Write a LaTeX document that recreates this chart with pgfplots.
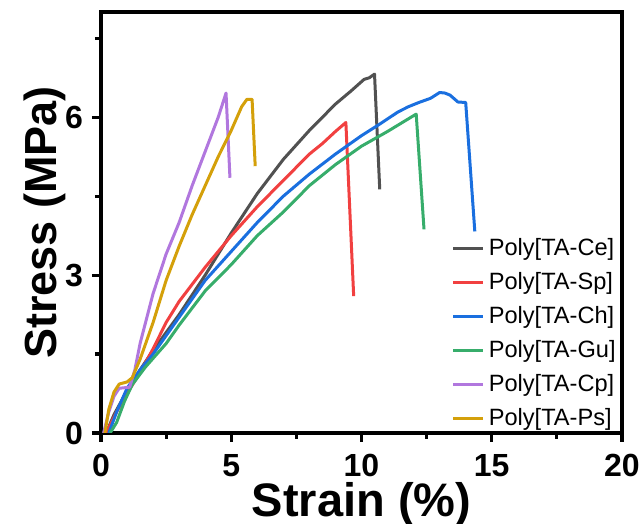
\documentclass[border=0pt]{standalone}
\usepackage{fontspec}
\setmainfont{Liberation Sans}
\usepackage{pgfplots}
\pgfplotsset{compat=1.18}

\definecolor{cCe}{HTML}{515151}
\definecolor{cSp}{HTML}{F14040}
\definecolor{cCh}{HTML}{1A6FDF}
\definecolor{cGu}{HTML}{37AD6B}
\definecolor{cCp}{HTML}{B177DE}
\definecolor{cPs}{HTML}{D4A00A}

\begin{document}
\begin{tikzpicture}
\useasboundingbox (-50.5pt,-45.5pt) rectangle (271pt,216.5pt);
\begin{axis}[
  at={(0,0)}, anchor=origin,
  scale only axis,
  width=260.5pt, height=210.5pt,
  xmin=0, xmax=20, ymin=0, ymax=8,
  xtick={0,5,10,15,20}, ytick={0,3,6},
  minor xtick={2.5,7.5,12.5,17.5},
  minor ytick={1.5,4.5,7.5},
  tick align=outside,
  tick pos=left,
  major tick length=4.5pt,
  minor tick length=3pt,
  every tick/.style={line width=1.6pt, black},
  axis line style={line width=2pt},
  /pgf/number format/assume math mode=true,
  ticklabel style={font=\fontsize{16}{18}\selectfont\bfseries},
  xticklabel style={inner sep=1pt, yshift=-5pt},
  yticklabel style={xshift=-1pt},
  xlabel={Strain (\%)},
  ylabel={Stress (MPa)},
  xlabel style={font=\fontsize{23.5}{25}\selectfont\bfseries, inner sep=0pt, at={(axis description cs:0.5,0)}, anchor=center, yshift=-35.8pt},
  ylabel style={font=\fontsize{22.5}{24}\selectfont\bfseries, inner sep=0pt, at={(axis description cs:0,0.5)}, anchor=center, yshift=28pt},
  legend style={draw=none, fill=none, font=\fontsize{11.8}{13}\selectfont,
    at={(axis description cs:1,0)}, anchor=south east, yshift=-1pt,
    row sep=3pt, inner sep=1pt},
  legend cell align=left,
  legend image code/.code={\draw[#1, line width=1.5pt] (0pt,0pt) -- (15pt,0pt);},
  every axis plot/.append style={line width=1.5pt, line join=round},
]
% Poly[TA-Ce]
\addplot[cCe] coordinates {
 (0.2,0) (0.5,0.35) (1,0.8) (1.5,1.2) (2,1.57) (3,2.25) (4,3.0) (5,3.8)
 (6,4.55) (7,5.2) (8,5.75) (9,6.25) (9.6,6.5) (10.1,6.72) (10.3,6.75)
 (10.5,6.82) (10.7,4.63)};
\addlegendentry{Poly[TA-Ce]}
% Poly[TA-Sp]
\addplot[cSp] coordinates {
 (0.2,0) (0.6,0.4) (1,0.75) (1.5,1.15) (2,1.6) (2.5,2.1) (3,2.5) (4,3.15)
 (5,3.75) (6,4.3) (7,4.8) (8,5.3) (8.5,5.5) (9,5.73) (9.4,5.9) (9.7,2.6)};
\addlegendentry{Poly[TA-Sp]}
% Poly[TA-Ch]
\addplot[cCh] coordinates {
 (0.3,0) (0.6,0.4) (1,0.85) (1.5,1.2) (2,1.5) (3,2.2) (4,2.9) (5,3.45)
 (6,4.0) (7,4.5) (8,4.92) (9,5.3) (10,5.65) (10.7,5.87) (11.4,6.1)
 (11.8,6.2) (12.2,6.28) (12.65,6.36) (13.0,6.47) (13.2,6.46) (13.4,6.42)
 (13.7,6.29) (14.0,6.28) (14.35,3.83)};
\addlegendentry{Poly[TA-Ch]}
% Poly[TA-Gu]
\addplot[cGu] coordinates {
 (0.35,0) (0.6,0.2) (0.9,0.6) (1.2,0.92) (1.7,1.25) (2.5,1.7) (3,2.05)
 (4,2.7) (5,3.2) (6,3.75) (7,4.2) (8,4.7) (9,5.1) (10,5.45) (11,5.73)
 (12.1,6.06) (12.4,3.87)};
\addlegendentry{Poly[TA-Gu]}
% Poly[TA-Cp]
\addplot[cCp] coordinates {
 (0.1,0) (0.3,0.4) (0.5,0.7) (0.7,0.85) (1.1,0.87) (1.3,1.2) (1.5,1.7)
 (2.0,2.65) (2.5,3.4) (3,4.0) (3.5,4.7) (4,5.35) (4.5,6.0) (4.8,6.46)
 (4.95,4.85)};
\addlegendentry{Poly[TA-Cp]}
% Poly[TA-Ps]
\addplot[cPs] coordinates {
 (0.15,0) (0.3,0.45) (0.5,0.78) (0.7,0.93) (1.0,0.97) (1.2,1.05) (1.5,1.4)
 (2.0,2.1) (2.5,2.9) (3,3.55) (3.5,4.15) (4,4.7) (4.5,5.25) (5,5.75)
 (5.4,6.2) (5.6,6.34) (5.8,6.34) (5.92,5.07)};
\addlegendentry{Poly[TA-Ps]}
\end{axis}
\end{tikzpicture}
\end{document}
